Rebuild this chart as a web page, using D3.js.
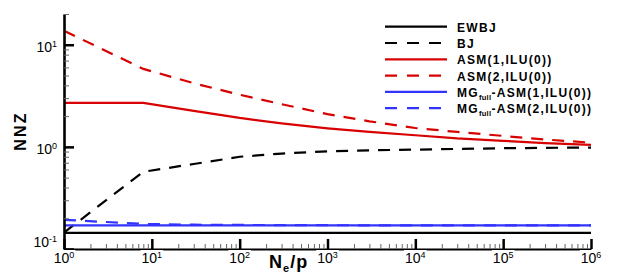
<!DOCTYPE html>
<html>
<head>
<meta charset="utf-8">
<script src="https://cdn.jsdelivr.net/npm/d3@7"></script>
<style>
  html, body { margin: 0; padding: 0; background: #fff; }
  svg { display: block; font-family: "Liberation Sans", Arial, sans-serif; }
</style>
</head>
<body>
<div id="chart"></div>
<script>
// Ne/p sample points
const nep = [1, 8, 30, 100, 300, 1000, 3000, 1e4, 3e4, 1e5, 3e5, 1e6];

const ewbj = [0.144, 0.144, 0.144, 0.144, 0.144, 0.144, 0.144, 0.144, 0.144, 0.144, 0.144, 0.144];
const bj   = [0.145, 0.57, 0.68, 0.80, 0.86, 0.905, 0.925, 0.94, 0.955, 0.97, 0.978, 0.985];
const asm1 = [2.7, 2.7, 2.25, 1.92, 1.70, 1.52, 1.40, 1.30, 1.21, 1.145, 1.09, 1.046];
const asm2 = [13.7, 5.8, 4.2, 3.24, 2.62, 2.09, 1.78, 1.53, 1.40, 1.28, 1.18, 1.10];
const mg1  = [0.170, 0.170, 0.170, 0.170, 0.170, 0.170, 0.170, 0.170, 0.170, 0.170, 0.170, 0.170];
const mg2  = [0.193, 0.176, 0.173, 0.172, 0.1715, 0.171, 0.1705, 0.1702, 0.170, 0.170, 0.170, 0.170];

const seriesNames = ["EWBJ", "BJ", "ASM(1,ILU(0))", "ASM(2,ILU(0))", "MG-ASM(1,ILU(0))", "MG-ASM(2,ILU(0))"];
const seriesValues = [ewbj, bj, asm1, asm2, mg1, mg2];
const seriesColors = ["#000", "#000", "#d80000", "#d80000", "#3333ff", "#3333ff"];
const seriesDashed = [false, true, false, true, false, true];

const xMajor = [1, 10, 100, 1e3, 1e4, 1e5, 1e6];
const xExp = ["0", "1", "2", "3", "4", "5", "6"];
const yMajor = [0.1, 1, 10];
const yExp = ["-1", "0", "1"];

const W = 623, H = 278;
const svg = d3.select("#chart").append("svg").attr("width", W).attr("height", H);

const x = d3.scaleLog().domain([1, 1e6]).range([64, 591]);
const y = d3.scaleLog().domain([0.1, 20]).range([249, 14]);

// minor tick values
const xMinor = [];
for (let e = 0; e < 6; e++) for (let k = 2; k <= 9; k++) xMinor.push(k * Math.pow(10, e));
const yMinor = [];
for (let e = -1; e < 2; e++) for (let k = 2; k <= 9; k++) {
  const v = k * Math.pow(10, e);
  if (v <= 20) yMinor.push(v);
}

// clip
svg.append("clipPath").attr("id", "clip")
  .append("rect").attr("x", 64).attr("y", 14).attr("width", 528).attr("height", 236);

// series lines
const line = d3.line().x((d, i) => x(nep[i])).y(d => y(d));
const plot = svg.append("g").attr("clip-path", "url(#clip)");
seriesValues.forEach((vals, i) => {
  plot.append("path")
    .attr("d", line(vals))
    .attr("fill", "none")
    .attr("stroke", seriesColors[i])
    .attr("stroke-width", 2.2)
    .attr("stroke-dasharray", seriesDashed[i] ? "12,9" : null);
});

// x axis (ticks pointing up)
const xg = svg.append("g").attr("transform", "translate(0,249)");
xg.call(d3.axisTop(x).tickValues(xMinor).tickSize(5).tickSizeOuter(0).tickFormat(""));
xg.selectAll(".tick line").attr("stroke", "#666").attr("stroke-width", 1);
xg.select(".domain").attr("stroke", "#000").attr("stroke-width", 2.2);
const xgM = svg.append("g").attr("transform", "translate(0,249)");
xgM.call(d3.axisTop(x).tickValues(xMajor).tickSize(10).tickSizeOuter(0).tickFormat(""));
xgM.select(".domain").remove();
xgM.selectAll(".tick line").attr("stroke", "#000").attr("stroke-width", 2.5);

// y axis (ticks pointing right)
const yg = svg.append("g").attr("transform", "translate(64,0)");
yg.call(d3.axisRight(y).tickValues(yMinor).tickSize(5).tickSizeOuter(0).tickFormat(""));
yg.selectAll(".tick line").attr("stroke", "#666").attr("stroke-width", 1);
yg.select(".domain").attr("stroke", "#000").attr("stroke-width", 2.6);
const ygM = svg.append("g").attr("transform", "translate(64,0)");
ygM.call(d3.axisRight(y).tickValues(yMajor).tickSize(10).tickSizeOuter(0).tickFormat(""));
ygM.select(".domain").remove();
ygM.selectAll(".tick line").attr("stroke", "#000").attr("stroke-width", 2.5);

// x tick labels, with white box hiding the axis line (Tecplot style)
xMajor.forEach((v, i) => {
  const g = svg.append("g");
  const t = g.append("text")
    .attr("x", x(v)).attr("y", 263)
    .attr("text-anchor", "middle")
    .attr("font-size", 14).attr("fill", "#000");
  t.append("tspan").text("10");
  t.append("tspan").attr("dy", -5).attr("font-size", 9).text(xExp[i]);
  const b = t.node().getBBox();
  g.insert("rect", "text")
    .attr("x", b.x - 1).attr("y", b.y)
    .attr("width", b.width + 2).attr("height", b.height)
    .attr("fill", "#fff");
});

// y tick labels
yMajor.forEach((v, i) => {
  const by = i === 0 ? 247 : y(v) + 7;
  const t = svg.append("text")
    .attr("x", 57).attr("y", by)
    .attr("text-anchor", "end")
    .attr("font-size", 14).attr("fill", "#000");
  t.append("tspan").text("10");
  t.append("tspan").attr("dy", -5).attr("font-size", 9).text(yExp[i]);
});

// axis titles
svg.append("text")
  .attr("transform", "translate(26,131) rotate(-90)")
  .attr("text-anchor", "middle")
  .attr("font-size", 16).attr("font-weight", "bold")
  .attr("letter-spacing", 2.2)
  .text("NNZ");

const xt = svg.append("text")
  .attr("x", 269).attr("y", 268)
  .attr("font-size", 18).attr("font-weight", "bold")
  .attr("letter-spacing", 1);
xt.append("tspan").text("N");
xt.append("tspan").attr("dy", 4).attr("font-size", 11).text("e");
xt.append("tspan").attr("dy", -4).text("/p");

// legend
const lg = svg.append("g");
seriesNames.forEach((name, i) => {
  const base = 31.7 + i * 16.3;
  lg.append("line")
    .attr("x1", 385).attr("x2", 447)
    .attr("y1", base - 5).attr("y2", base - 5)
    .attr("stroke", seriesColors[i])
    .attr("stroke-width", 2.2)
    .attr("stroke-dasharray", seriesDashed[i] ? "12,10" : null);
  const t = lg.append("text")
    .attr("x", 457).attr("y", base)
    .attr("font-size", 12).attr("font-weight", "bold")
    .attr("letter-spacing", 1.3);
  if (name.startsWith("MG-")) {
    t.append("tspan").text("MG");
    t.append("tspan").attr("dy", 3).attr("font-size", 7.5).attr("letter-spacing", 0.3).text("full");
    t.append("tspan").attr("dy", -3).text(name.slice(2));
  } else {
    t.text(name);
  }
});
</script>
</body>
</html>
